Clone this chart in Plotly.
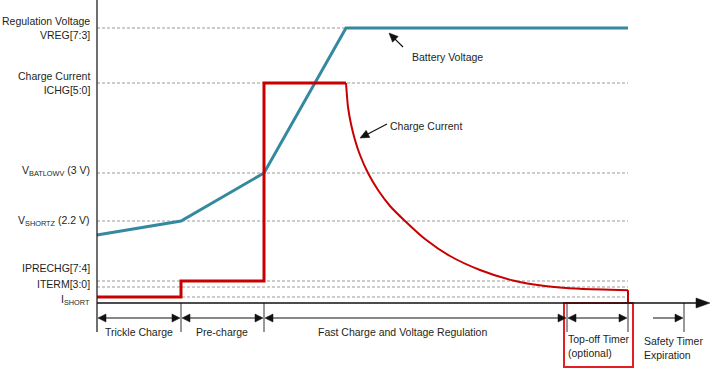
import math
import plotly.graph_objects as go

# ---------------- data ----------------
level_labels = ["Regulation Voltage<br>VREG[7:3]", "Charge Current<br>ICHG[5:0]",
                "V<sub>BATLOWV</sub> (3 V)", "V<sub>SHORTZ</sub> (2.2 V)",
                "IPRECHG[7:4]", "ITERM[3:0]", "I<sub>SHORT</sub>"]
level_values = [275, 220, 130, 82, 22, 16, 6]

phase_bounds = [0, 84, 167, 470, 531, 587]
phase_labels = ["Trickle Charge", "Pre-charge", "Fast Charge and Voltage Regulation",
                "Top-off Timer<br>(optional)", "Safety Timer<br>Expiration"]

batt_time = [0, 84, 167, 249, 531]
batt_level = [68, 82, 130, 275, 275]

cc_time = [0, 84, 84, 167, 167, 249]
cc_level = [6, 6, 22, 22, 220, 220]

taper_time = [249, 251, 254, 258, 263, 271, 281, 293, 308, 328, 353, 383, 416, 448, 483, 531]
taper_level = [220, 196, 179, 163, 148, 130, 113, 97, 82, 64, 47, 33, 22.5, 17, 14.2, 12.7]

end_time = [531, 531]
end_level = [12.7, 0]

# ---------------- styles ----------------
FONT = "Liberation Sans, Arial, sans-serif"
TXT = "#231f20"
BLUE = "#3489a0"
RED = "#c80000"
BOX = "#e31e24"
ARROW = "#111111"
label_shift = [0, 0, 2, 0, 13, 3, -3]

fig = go.Figure()

fig.add_trace(go.Scatter(x=batt_time, y=batt_level, mode="lines",
                         line=dict(color=BLUE, width=3), hoverinfo="skip"))
fig.add_trace(go.Scatter(x=cc_time, y=cc_level, mode="lines",
                         line=dict(color=RED, width=3), hoverinfo="skip"))
fig.add_trace(go.Scatter(x=taper_time, y=taper_level, mode="lines",
                         line=dict(color=RED, width=2, shape="spline", smoothing=0.6),
                         hoverinfo="skip"))
fig.add_trace(go.Scatter(x=end_time, y=end_level, mode="lines",
                         line=dict(color=RED, width=2), hoverinfo="skip"))

shapes = []
annotations = []

t_end = phase_bounds[4]
# dashed reference levels + labels
for lab, val, sh in zip(level_labels, level_values, label_shift):
    shapes.append(dict(type="line", x0=0, x1=t_end, y0=val, y1=val, layer="below",
                       line=dict(color="#9a9a9a", width=1, dash="3px,2px")))
    annotations.append(dict(x=-5, y=val + sh, text=lab, showarrow=False,
                            xanchor="right", yanchor="middle", align="right",
                            font=dict(family=FONT, size=10.5, color=TXT)))

# y axis
shapes.append(dict(type="line", x0=0, x1=0, y0=303, y1=-29,
                   line=dict(color="#222", width=1.3)))
# time ticks
for b in phase_bounds[1:]:
    shapes.append(dict(type="line", x0=b, x1=b, y0=0, y1=-29,
                       line=dict(color="#333", width=1)))
# red highlight box around top-off timer
shapes.append(dict(type="rect", x0=phase_bounds[3] - 3, x1=phase_bounds[4] + 5,
                   y0=0, y1=-64, line=dict(color=BOX, width=2)))


def head(tx, ty, ux, uy, L, H):
    # filled triangular arrow head with tip at (tx, ty) pointing along (ux, uy)
    px, py = -uy, ux
    bx, by = tx - ux * L, ty - uy * L
    p1 = (bx + px * H / 2, by + py * H / 2)
    p2 = (bx - px * H / 2, by - py * H / 2)
    shapes.append(dict(type="path",
                       path=f"M{tx},{ty} L{p1[0]},{p1[1]} L{p2[0]},{p2[1]} Z",
                       fillcolor=ARROW, line=dict(color=ARROW, width=0.5)))


def arrow(x0, y0, x1, y1, both=False, L=8, H=8, width=1.0):
    d = math.hypot(x1 - x0, y1 - y0)
    ux, uy = (x1 - x0) / d, (y1 - y0) / d
    sx0, sy0 = (x0 + ux * L * 0.8, y0 + uy * L * 0.8) if both else (x0, y0)
    sx1, sy1 = x1 - ux * L * 0.8, y1 - uy * L * 0.8
    shapes.append(dict(type="line", x0=sx0, y0=sy0, x1=sx1, y1=sy1,
                       line=dict(color=ARROW, width=width)))
    head(x1, y1, ux, uy, L, H)
    if both:
        head(x0, y0, -ux, -uy, L, H)


# x axis with arrow
arrow(0, 0, 613, 0, L=14, H=10, width=1.3)

# phase arrows and labels
arrow_y = -15
for i in range(4):
    arrow(phase_bounds[i] + 1, arrow_y, phase_bounds[i + 1] - 1, arrow_y, both=True)
arrow(556, arrow_y, phase_bounds[5] - 1, arrow_y)

label_pos = [(42, -29, "center"), (125, -29, "center"), (305, -29, "center"),
             (469, -42.5, "left"), (545, -44.5, "left")]
for lab, (x, y, anc) in zip(phase_labels, label_pos):
    annotations.append(dict(x=x, y=y, text=lab, showarrow=False, xanchor=anc,
                            yanchor="middle", align="left",
                            font=dict(family=FONT, size=10.5, color=TXT)))

# callouts
annotations.append(dict(x=313, y=246, text="Battery Voltage", showarrow=False,
                        xanchor="left", yanchor="middle",
                        font=dict(family=FONT, size=10.5, color=TXT)))
arrow(306, 256, 292, 270, L=9, H=8, width=1.2)
annotations.append(dict(x=291, y=177, text="Charge Current", showarrow=False,
                        xanchor="left", yanchor="middle",
                        font=dict(family=FONT, size=10.5, color=TXT)))
arrow(290, 179, 263, 165, L=9, H=8, width=1.2)

fig.update_layout(
    width=722, height=375, autosize=False,
    margin=dict(l=0, r=0, t=0, b=0),
    paper_bgcolor="white", plot_bgcolor="white",
    showlegend=False,
    xaxis=dict(range=[-97, 625], visible=False, fixedrange=True),
    yaxis=dict(range=[-72, 303], visible=False, fixedrange=True),
    shapes=shapes, annotations=annotations,
)

fig.write_html("out.html",
               config={"displayModeBar": False, "staticPlot": True},
               post_script="document.body.style.margin='0px';"
                           "document.body.style.overflow='hidden';")
